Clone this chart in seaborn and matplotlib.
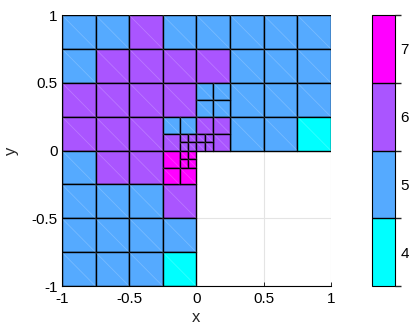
import numpy as np
import matplotlib
matplotlib.use("Agg")
import matplotlib.pyplot as plt
import seaborn as sns
from matplotlib.patches import Rectangle
from matplotlib.collections import PatchCollection, LineCollection
from matplotlib.colors import BoundaryNorm
from matplotlib.cm import ScalarMappable

# Element levels on the coarse 8x8 grid of the L-shaped domain (rows from top, y=1 downwards).
# 0 marks a coarse cell that is refined (its children are listed below); nan lies outside the domain.
N = np.nan
coarse_levels = [
    [5, 5, 6, 5, 5, 5, 5, 5],
    [5, 6, 6, 6, 6, 5, 5, 5],
    [6, 6, 6, 6, 0, 5, 5, 5],
    [6, 6, 6, 0, 0, 5, 5, 4],
    [5, 6, 6, 0, N, N, N, N],
    [5, 5, 5, 6, N, N, N, N],
    [5, 5, 5, 5, N, N, N, N],
    [5, 5, 5, 4, N, N, N, N],
]
coarse_size = 0.25

# Refined elements near the re-entrant corner: lower-left corner, edge length, level
fine_x = [0, 0.125, 0, 0.125,
          -0.25, -0.125, -0.25, -0.125, -0.0625, -0.125, -0.0625,
          0, 0.125, 0.125, 0, 0.0625, 0, 0.0625,
          -0.25, -0.125, -0.0625, -0.125, -0.0625, -0.25, -0.125]
fine_y = [0.375, 0.375, 0.25, 0.25,
          0.125, 0.125, 0, 0.0625, 0.0625, 0, 0,
          0.125, 0.125, 0, 0.0625, 0.0625, 0, 0,
          -0.125, -0.0625, -0.0625, -0.125, -0.125, -0.25, -0.25]
fine_h = [0.125, 0.125, 0.125, 0.125,
          0.125, 0.125, 0.125, 0.0625, 0.0625, 0.0625, 0.0625,
          0.125, 0.125, 0.125, 0.0625, 0.0625, 0.0625, 0.0625,
          0.125, 0.0625, 0.0625, 0.0625, 0.0625, 0.125, 0.125]
fine_v = [5, 5, 5, 5,
          5, 5, 6, 6, 6, 6, 6,
          6, 6, 6, 6, 6, 6, 6,
          7, 7, 7, 7, 7, 7, 7]

levels = [4, 5, 6, 7]
ticks = [-1, -0.5, 0, 0.5, 1]
tick_labels = ["-1", "-0.5", "0", "0.5", "1"]

sns.set_theme(style="ticks")
plt.rcParams["font.family"] = ["Liberation Sans", "DejaVu Sans"]

# collect all elements
ex, ey, eh, ev = [], [], [], []
for r, row in enumerate(coarse_levels):
    for c, v in enumerate(row):
        if np.isfinite(v) and v > 0:
            ex.append(-1 + c * coarse_size)
            ey.append(1 - (r + 1) * coarse_size)
            eh.append(coarse_size)
            ev.append(v)
ex += fine_x
ey += fine_y
eh += fine_h
ev += fine_v

cmap = plt.get_cmap("cool").resampled(len(levels))
bounds = np.arange(levels[0] - 0.5, levels[-1] + 1.0, 1.0)
norm = BoundaryNorm(bounds, cmap.N)

fig = plt.figure(figsize=(4.1, 3.27), dpi=100)
ax = fig.add_axes([0.151, 0.125, 0.656, 0.829])
cax = fig.add_axes([0.907, 0.125, 0.056, 0.829])

ax.set_xlim(-1, 1)
ax.set_ylim(-1, 1)
ax.grid(True, color="#e4e4e4", linewidth=0.8)
ax.set_axisbelow(True)

rects = [Rectangle((x, y), h, h) for x, y, h in zip(ex, ey, eh)]
pc = PatchCollection(rects, cmap=cmap, norm=norm, edgecolor="black", linewidth=1.0, zorder=2)
pc.set_array(np.asarray(ev, dtype=float))
ax.add_collection(pc)

# triangle split of each square element
diag = [[(x, y + h), (x + h, y)] for x, y, h in zip(ex, ey, eh)]
ax.add_collection(LineCollection(diag, colors="white", linewidths=0.6, alpha=0.2, zorder=2.5))

ax.set_xticks(ticks)
ax.set_xticklabels(tick_labels)
ax.set_yticks(ticks)
ax.set_yticklabels(tick_labels)
ax.tick_params(direction="in", length=3, width=0.6, labelsize=11, colors="black", pad=3)
ax.tick_params(axis="x", pad=4)
for s in ("top", "right"):
    ax.spines[s].set_visible(False)
for s in ("left", "bottom"):
    ax.spines[s].set_color("black")
    ax.spines[s].set_linewidth(0.8)
ax.set_xlabel("x", fontsize=12, labelpad=3)
ax.set_ylabel("y", fontsize=12, labelpad=9)

cb = fig.colorbar(ScalarMappable(norm=norm, cmap=cmap), cax=cax, ticks=levels, drawedges=True)
cb.outline.set_edgecolor("black")
cb.outline.set_linewidth(0.8)
cb.dividers.set_color("black")
cb.dividers.set_linewidth(1.0)
cax.tick_params(direction="in", length=3, width=0.6, labelsize=11, colors="black", pad=4)

fig.savefig("out.png", dpi=100, facecolor="white")
